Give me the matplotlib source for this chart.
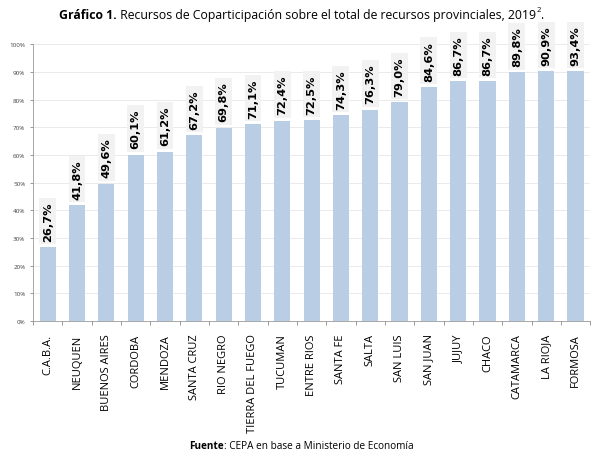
import matplotlib
matplotlib.use("Agg")
import matplotlib.pyplot as plt
from matplotlib.ticker import PercentFormatter, FixedLocator

provinces = ["C.A.B.A.", "NEUQUEN", "BUENOS AIRES", "CORDOBA", "MENDOZA",
             "SANTA CRUZ", "RIO NEGRO", "TIERRA DEL FUEGO", "TUCUMAN",
             "ENTRE RIOS", "SANTA FE", "SALTA", "SAN LUIS", "SAN JUAN",
             "JUJUY", "CHACO", "CATAMARCA", "LA RIOJA", "FORMOSA"]
# labelled values
shares = [26.7, 41.8, 49.6, 60.1, 61.2, 67.2, 69.8, 71.1, 72.4, 72.5,
          74.3, 76.3, 79.0, 84.6, 86.7, 86.7, 89.8, 90.9, 93.4]
# bar heights as drawn in the picture (top bars stop near 90%)
bar_heights = [26.7, 41.8, 49.6, 60.1, 61.2, 67.2, 69.8, 71.1, 72.4, 72.5,
               74.3, 76.3, 79.0, 84.6, 86.7, 86.7, 89.8, 90.2, 90.2]
yticks = list(range(0, 101, 10))

plt.rcParams['font.family'] = ['Open Sans', 'DejaVu Sans']

fig = plt.figure(figsize=(6.03, 4.56), dpi=100)
ax = fig.add_axes([0.0547, 0.294, 0.924, 0.607])

x = range(len(provinces))
ax.bar(x, bar_heights, width=0.55, color='#b9cde5', zorder=2)

# value labels in light grey boxes above each bar
for xi, h, v in zip(x, bar_heights, shares):
    ax.annotate(f"{v:.1f}%".replace('.', ','), (xi, h), xytext=(0, 4.5),
                textcoords='offset points', rotation=90, ha='center', va='bottom',
                fontsize=8.2, fontweight='bold', family='DejaVu Sans',
                bbox=dict(boxstyle='square,pad=0.3', fc='#f2f2f2', ec='none'),
                zorder=3, annotation_clip=False)

ax.set_xlim(-0.5, len(provinces) - 0.5)
ax.set_ylim(0, 100)
ax.set_yticks(yticks)
ax.yaxis.set_major_formatter(PercentFormatter(decimals=0))
ax.tick_params(axis='y', labelsize=4.5, length=2, width=0.6, color='#888888', labelcolor='#444444')
ax.grid(axis='y', color='#e6e6e6', linewidth=0.6, zorder=0)

ax.set_xticks(list(x))
ax.set_xticklabels(provinces, rotation=90, fontsize=8)
ax.tick_params(axis='x', length=0, pad=9)
ax.xaxis.set_minor_locator(FixedLocator([i - 0.5 for i in range(len(provinces) + 1)]))
ax.tick_params(axis='x', which='minor', length=3, width=0.6, color='#888888')

for side in ['top', 'right']:
    ax.spines[side].set_visible(False)
for side in ['left', 'bottom']:
    ax.spines[side].set_color('#999999')
    ax.spines[side].set_linewidth(0.6)

fig.canvas.draw()
r = fig.canvas.get_renderer()


def centered_line(parts, y):
    texts = []
    for s, kw, dy in parts:
        texts.append(fig.text(0.0, y + dy, s, va='center', **kw))
    widths = [t.get_window_extent(r).width / fig.bbox.width for t in texts]
    pos = 0.5 - sum(widths) / 2
    for t, w in zip(texts, widths):
        t.set_x(pos)
        pos += w


centered_line([("Gráfico 1.", dict(fontsize=8.8, fontweight='bold'), 0),
               (" Recursos de Coparticipación sobre el total de recursos provinciales, 2019",
                dict(fontsize=8.8), 0),
               ("2", dict(fontsize=5.5), 0.012),
               (".", dict(fontsize=8.8), 0)], 0.965)

centered_line([("Fuente", dict(fontsize=7.2, fontweight='bold'), 0),
               (": CEPA en base a Ministerio de Economía", dict(fontsize=7.2), 0)], 0.02)

fig.savefig("out.png", dpi=100)
